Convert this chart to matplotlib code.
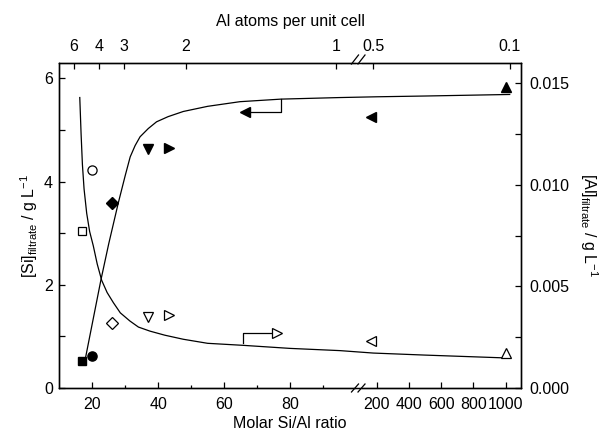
import numpy as np
import matplotlib
matplotlib.use('Agg')
import matplotlib.pyplot as plt
from matplotlib.ticker import FixedLocator, NullFormatter

plt.rcParams['font.family'] = ['Liberation Sans', 'DejaVu Sans']
plt.rcParams['mathtext.default'] = 'regular'
FS = 11.5
plt.rcParams['font.size'] = FS

# ---------------- data ----------------
# Molar Si/Al ratio of the samples
si_al_ratio = [16.9, 19.9, 25.9, 36.9, 43.4, 165, 1000]
si_markers = ['s', 'o', 'D', 'v', '>', '<', '^']
# [Si] filtrate (g/L), filled symbols, left axis
si_filtrate = [0.52, 0.63, 3.59, 4.63, 4.66, 5.25, 5.84]
# [Al] filtrate (g/L), open symbols, right axis
al_filtrate = [0.00774, 0.01073, 0.00321, 0.00351, 0.00359, 0.00231, 0.00172]

# guide curves
si_curve_x = [17.8, 20, 22.6, 25, 27.9, 30, 31.5, 33, 34.5, 37, 39.5, 43, 47.6,
              55, 64.8, 77.3, 95, 200, 500, 1025]
si_curve_y = [0.54, 1.25, 2.09, 2.8, 3.59, 4.12, 4.48, 4.7, 4.87, 5.03, 5.16, 5.26,
              5.36, 5.46, 5.55, 5.60, 5.63, 5.645, 5.66, 5.69]
al_curve_x = [16.2, 16.6, 17.0, 17.5, 18.3, 19.2, 20.3, 21.5, 22.85, 24.5, 26.4, 28.5,
              31.4, 34, 37.5, 42, 47.6, 55, 65.8, 80, 95.2, 179, 500, 964, 1025]
al_curve_y = [0.0143, 0.0125, 0.0110, 0.0098, 0.0086, 0.0077, 0.0070, 0.0061, 0.0053,
              0.0047, 0.0042, 0.0037, 0.0033, 0.0030, 0.0028, 0.0026, 0.0024, 0.0022,
              0.0021, 0.00195, 0.00184, 0.00172, 0.00162, 0.00149, 0.00149]

# axis indicator arrows
si_arrow_x = [77.3, 77.3, 66.3]
si_arrow_y = [5.6, 5.355, 5.355]
al_arrow_x = [65.8, 65.8, 76.2]
al_arrow_y = [0.00222, 0.00269, 0.00269]

# ticks
bottom_ticks = [20, 40, 60, 80, 200, 400, 600, 800, 1000]
bottom_minor = [30, 50, 70, 90]
top_tick_ratio = [14.4, 22.0, 29.7, 48.4, 93.9, 179, 1025]
top_tick_labels = ['6', '4', '3', '2', '1', '0.5', '0.1']
si_ticks = [0, 2, 4, 6]
si_minor = [1, 3, 5]
al_ticks = [0.000, 0.005, 0.010, 0.015]
al_minor = [0.0025, 0.0075, 0.0125]

# ---------------- broken x scale ----------------
BREAK = 100.0
K = 0.16125 / 3.295
GAP = 4.68 / 3.295


def fwd(x):
    x = np.asarray(x, float)
    return np.where(x <= BREAK, x, BREAK + GAP + (x - BREAK) * K)


def inv(u):
    u = np.asarray(u, float)
    return np.where(u <= BREAK, u,
                    np.where(u < BREAK + GAP, BREAK, BREAK + (u - BREAK - GAP) / K))


XLIM = (10, 1095)

fig = plt.figure(figsize=(6.03, 4.33), dpi=100)
ax = fig.add_axes([59.35 / 603, 45 / 433, (521 - 59.35) / 603, 325 / 433])
ax.set_xscale('function', functions=(fwd, inv))
ax.set_xlim(*XLIM)
ax.set_ylim(0, 6.3)

ax2 = ax.twinx()
ax2.set_ylim(0, 0.016)

ax3 = ax.twiny()
ax3.set_xscale('function', functions=(fwd, inv))
ax3.set_xlim(*XLIM)

lw = 0.9
for a in (ax, ax2, ax3):
    for s in a.spines.values():
        s.set_linewidth(lw)

# curves
ax.plot(si_curve_x, si_curve_y, color='black', lw=lw, zorder=2)
ax2.plot(al_curve_x, al_curve_y, color='black', lw=lw, zorder=2)

# arrows
ax.plot(si_arrow_x, si_arrow_y, color='black', lw=lw, zorder=2)
ax.plot(si_arrow_x[-1], si_arrow_y[-1], marker='<', ms=7.5, color='black',
        ls='none', zorder=3)
ax2.plot(al_arrow_x, al_arrow_y, color='black', lw=lw, zorder=2)
ax2.plot(al_arrow_x[-1], al_arrow_y[-1], marker='>', ms=7.5, mfc='white',
         mec='black', mew=0.9, ls='none', zorder=3)

# markers
sizes = {'s': 6.3, 'o': 6.6, 'D': 6.1, 'v': 7.6, '>': 7.6, '<': 7.6, '^': 7.6}
for x, ys, ya, m in zip(si_al_ratio, si_filtrate, al_filtrate, si_markers):
    ax.plot(x, ys, marker=m, ms=sizes[m], color='black', ls='none', zorder=4)
    ax2.plot(x, ya, marker=m, ms=sizes[m], mfc='white', mec='black', mew=0.9,
             ls='none', zorder=4)

# ticks
ax.xaxis.set_major_locator(FixedLocator(bottom_ticks))
ax.xaxis.set_minor_locator(FixedLocator(bottom_minor))
ax.xaxis.set_minor_formatter(NullFormatter())
ax.set_xticklabels([str(t) for t in bottom_ticks])
ax.yaxis.set_major_locator(FixedLocator(si_ticks))
ax.yaxis.set_minor_locator(FixedLocator(si_minor))
ax.set_yticklabels([str(t) for t in si_ticks])
ax2.yaxis.set_major_locator(FixedLocator(al_ticks))
ax2.yaxis.set_minor_locator(FixedLocator(al_minor))
ax2.set_yticklabels(['%.3f' % t for t in al_ticks])
ax3.xaxis.set_major_locator(FixedLocator(top_tick_ratio))
ax3.xaxis.set_minor_locator(FixedLocator([]))
ax3.set_xticklabels(top_tick_labels)

ax.tick_params(axis='x', which='both', direction='in', top=False, pad=6.5, labelsize=FS)
ax.tick_params(axis='x', which='major', length=4, width=lw)
ax.tick_params(axis='x', which='minor', length=2.5, width=lw)
ax.tick_params(axis='y', which='both', direction='in', right=False, pad=4.5, labelsize=FS)
ax.tick_params(axis='y', which='major', length=4, width=lw)
ax.tick_params(axis='y', which='minor', length=4, width=lw)
ax2.tick_params(axis='y', which='both', direction='in', pad=6, labelsize=FS)
ax2.tick_params(axis='y', which='major', length=4, width=lw)
ax2.tick_params(axis='y', which='minor', length=4, width=lw)
ax3.tick_params(axis='x', which='major', direction='in', length=4, width=lw, pad=6.5,
                labelsize=FS)

ax.set_xlabel('Molar Si/Al ratio', fontsize=FS, labelpad=3)
ax3.set_xlabel('Al atoms per unit cell', fontsize=FS, labelpad=9)
ax.set_ylabel(r'[Si]$_{filtrate}$ / g L$^{-1}$', fontsize=FS, labelpad=3)
ax2.set_ylabel(r'[Al]$_{filtrate}$ / g L$^{-1}$', fontsize=FS, rotation=270,
               labelpad=22)

# axis-break marks on bottom and top spines
W = 521 - 59.35
H = 325.0
for cx in (355.0, 361.5):
    fx = (cx - 59.35) / W
    for y0, y1 in ((-4.0 / H, 4.0 / H), (1 + -1.0 / H, 1 + 8.0 / H)):
        ax.plot([fx - 3.5 / W, fx + 3.5 / W], [y0, y1], transform=ax.transAxes,
                color='black', lw=lw, clip_on=False, zorder=10)
for yb in (0, 1):
    ax.plot([(356.5 - 59.35) / W, (360.0 - 59.35) / W], [yb, yb],
            transform=ax.transAxes, color='white', lw=2, clip_on=False, zorder=9)

fig.savefig('out.png', dpi=100)
